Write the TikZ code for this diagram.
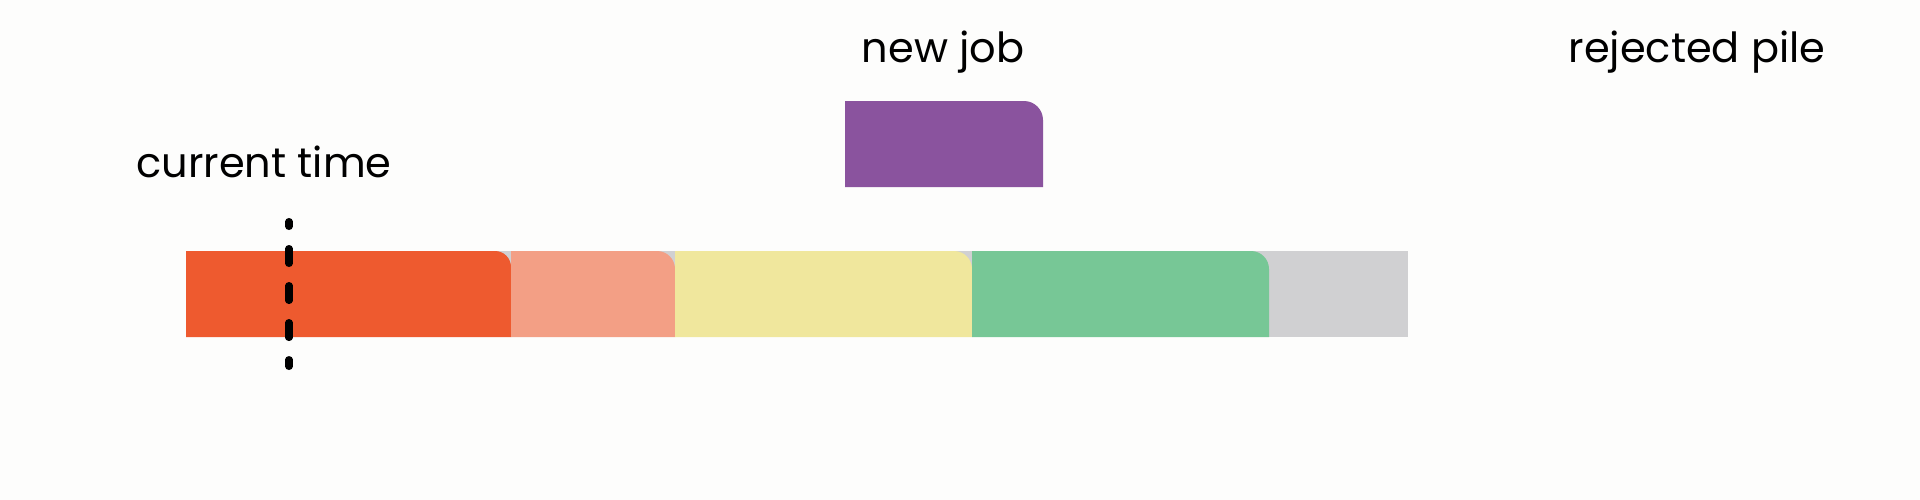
\documentclass[tikz,border=0pt]{standalone}
\usepackage{fontspec}
\setmainfont{Poppins}
\usetikzlibrary{positioning}

\definecolor{pagewhite}{HTML}{FDFDFC}
\definecolor{queuegray}{HTML}{D0D0D2}
\definecolor{jobred}{HTML}{EE5A2F}
\definecolor{jobsalmon}{HTML}{F39F85}
\definecolor{jobyellow}{HTML}{F0E79D}
\definecolor{jobgreen}{HTML}{77C796}
\definecolor{jobpurple}{HTML}{8A539E}

\tikzset{
  lbl/.style={anchor=base, inner sep=0pt, font=\fontsize{11.8}{14}\selectfont, text=black},
  nowline/.style={line width=0.7mm, line cap=round, dash pattern=on 1.5mm off 2.2mm, dash phase=1mm}
}

\begin{document}
\begin{tikzpicture}[x=0.01cm, y=-0.01cm]
        \fill[pagewhite] (0,0) rectangle (1920,500);

        % the queue
        \fill[queuegray] (186,251) rectangle (1408,337);
        \fill[jobred] (186,337) |- (495,251) arc[start angle=-90, end angle=0, radius=16] |- cycle;
        \fill[jobsalmon] (511,337) |- (657,251) arc[start angle=-90, end angle=0, radius=18] |- cycle;
        \fill[jobyellow] (675,337) |- (954,251) arc[start angle=-90, end angle=0, radius=18] |- cycle;
        \fill[jobgreen] (972,337) |- (1251,251) arc[start angle=-90, end angle=0, radius=18] |- cycle;

        % the new job
        \fill[jobpurple] (845,187) |- (1024,101) arc[start angle=-90, end angle=0, radius=19] |- cycle;

        \node[lbl] (curtime) at (264,177) {current time};
        \node[lbl] (newjob) at (943,63) {new job};
        \node[lbl] (rejected) at (1697,63) {rejected pile};

        \coordinate (nowtop) at (289,221.5);
        \coordinate (nowbot) at (289,366.5);
        \draw[nowline] (nowtop) -- (nowbot);
    \end{tikzpicture}
\end{document}
